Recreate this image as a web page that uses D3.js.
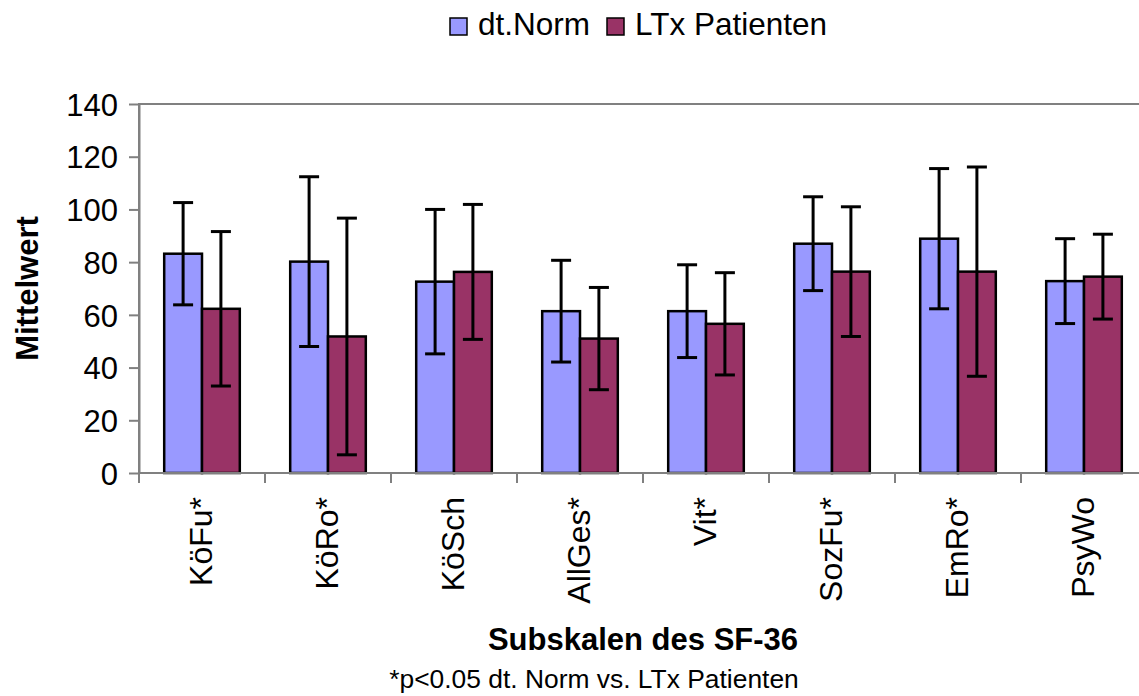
<!DOCTYPE html>
<html>
<head>
<meta charset="utf-8">
<script src="https://cdn.jsdelivr.net/npm/d3@7"></script>
<style>
  html, body { margin: 0; padding: 0; background: #fff; }
  svg { display: block; font-family: "Liberation Sans", Arial, sans-serif; }
</style>
</head>
<body>
<svg id="chart" width="1139" height="696"></svg>
<script>
// SF-36 subscales
const categories = ["KöFu*", "KöRo*", "KöSch", "AllGes*", "Vit*", "SozFu*", "EmRo*", "PsyWo"];
const seriesNames = ["dt.Norm", "LTx Patienten"];
// mean values
const normMean = [83.2, 80.2, 72.6, 61.4, 61.4, 87.0, 88.9, 72.8];
const ltxMean  = [62.3, 51.8, 76.3, 51.0, 56.6, 76.4, 76.4, 74.5];
// standard deviations (error bars)
const normSD = [19.4, 32.2, 27.4, 19.3, 17.6, 17.8, 26.6, 16.1];
const ltxSD  = [29.3, 44.9, 25.6, 19.4, 19.4, 24.6, 39.7, 16.1];
const yTicks = [0, 20, 40, 60, 80, 100, 120, 140];
const colors = ["#9999FF", "#993366"];

const svg = d3.select("#chart");
const plot = { left: 139, right: 1147, top: 104, bottom: 473 };

const x0 = d3.scaleBand().domain(categories).range([plot.left, plot.right]).padding(0);
const x1 = d3.scaleBand().domain(seriesNames)
  .range([x0.step() * 0.2, x0.step() * 0.8]).padding(0);
const y = d3.scaleLinear().domain([0, 140]).range([plot.bottom, plot.top]);

const rows = categories.map((c, i) => ({
  cat: c,
  vals: [
    { s: seriesNames[0], v: normMean[i], sd: normSD[i], col: colors[0] },
    { s: seriesNames[1], v: ltxMean[i], sd: ltxSD[i], col: colors[1] }
  ]
}));

// plot area frame
svg.append("rect")
  .attr("x", plot.left).attr("y", plot.top)
  .attr("width", plot.right - plot.left).attr("height", plot.bottom - plot.top)
  .attr("fill", "none").attr("stroke", "#808080").attr("stroke-width", 2);

// bars
const groups = svg.append("g").selectAll("g").data(rows).join("g")
  .attr("transform", d => `translate(${x0(d.cat)},0)`);

groups.selectAll("rect").data(d => d.vals).join("rect")
  .attr("x", d => x1(d.s))
  .attr("y", d => y(d.v))
  .attr("width", x1.bandwidth())
  .attr("height", d => y(0) - y(d.v))
  .attr("fill", d => d.col)
  .attr("stroke", "#000").attr("stroke-width", 2.5);

// error bars
const eb = groups.selectAll("g.err").data(d => d.vals).join("g").attr("class", "err")
  .attr("stroke", "#000").attr("stroke-width", 3);
const capW = 10;
eb.append("line")
  .attr("x1", d => x1(d.s) + x1.bandwidth() / 2).attr("x2", d => x1(d.s) + x1.bandwidth() / 2)
  .attr("y1", d => y(d.v + d.sd)).attr("y2", d => y(d.v - d.sd));
eb.append("line")
  .attr("x1", d => x1(d.s) + x1.bandwidth() / 2 - capW).attr("x2", d => x1(d.s) + x1.bandwidth() / 2 + capW)
  .attr("y1", d => y(d.v + d.sd)).attr("y2", d => y(d.v + d.sd));
eb.append("line")
  .attr("x1", d => x1(d.s) + x1.bandwidth() / 2 - capW).attr("x2", d => x1(d.s) + x1.bandwidth() / 2 + capW)
  .attr("y1", d => y(d.v - d.sd)).attr("y2", d => y(d.v - d.sd));

// y axis
const yAxis = svg.append("g").attr("transform", `translate(${plot.left},0)`)
  .call(d3.axisLeft(y).tickValues(yTicks).tickSize(10).tickPadding(11).tickSizeOuter(0));
yAxis.select(".domain").attr("stroke", "#808080").attr("stroke-width", 2);
yAxis.selectAll(".tick line").attr("stroke", "#808080").attr("stroke-width", 2);
yAxis.selectAll(".tick text").attr("font-size", 31).attr("fill", "#000")
  .attr("font-family", "Liberation Sans, Arial, sans-serif").attr("dy", "0.36em");

// x axis: ticks at category boundaries
const xAxisG = svg.append("g").attr("transform", `translate(0,${plot.bottom})`);
xAxisG.append("line").attr("x1", plot.left).attr("x2", plot.right)
  .attr("stroke", "#808080").attr("stroke-width", 2);
xAxisG.selectAll("line.tk").data(categories).join("line").attr("class", "tk")
  .attr("x1", d => x0(d)).attr("x2", d => x0(d))
  .attr("y1", 0).attr("y2", 10)
  .attr("stroke", "#808080").attr("stroke-width", 2);
xAxisG.selectAll("text").data(categories).join("text")
  .attr("transform", d => `translate(${x0(d) + x0.bandwidth() / 2 + 10},24) rotate(-90)`)
  .attr("text-anchor", "end")
  .attr("font-size", 32).attr("fill", "#000")
  .text(d => d);

// axis titles
svg.append("text")
  .attr("transform", `translate(38,${(plot.top + plot.bottom) / 2}) rotate(-90)`)
  .attr("text-anchor", "middle").attr("font-size", 31).attr("font-weight", "bold")
  .text("Mittelwert");
svg.append("text")
  .attr("x", (plot.left + plot.right) / 2).attr("y", 650)
  .attr("text-anchor", "middle").attr("font-size", 31).attr("font-weight", "bold")
  .text("Subskalen des SF-36");
svg.append("text")
  .attr("x", 594).attr("y", 688)
  .attr("text-anchor", "middle").attr("font-size", 26.4)
  .text("*p<0.05 dt. Norm vs. LTx Patienten");

// legend
const legend = svg.append("g");
const legendItems = [
  { name: seriesNames[0], col: colors[0], x: 450 },
  { name: seriesNames[1], col: colors[1], x: 607 }
];
legendItems.forEach(it => {
  legend.append("rect").attr("x", it.x).attr("y", 18).attr("width", 17).attr("height", 17)
    .attr("fill", it.col).attr("stroke", "#000").attr("stroke-width", 1.5);
  legend.append("text").attr("x", it.x + 28).attr("y", 35)
    .attr("font-size", 31.5).attr("fill", "#000").text(it.name);
});
</script>
</body>
</html>
